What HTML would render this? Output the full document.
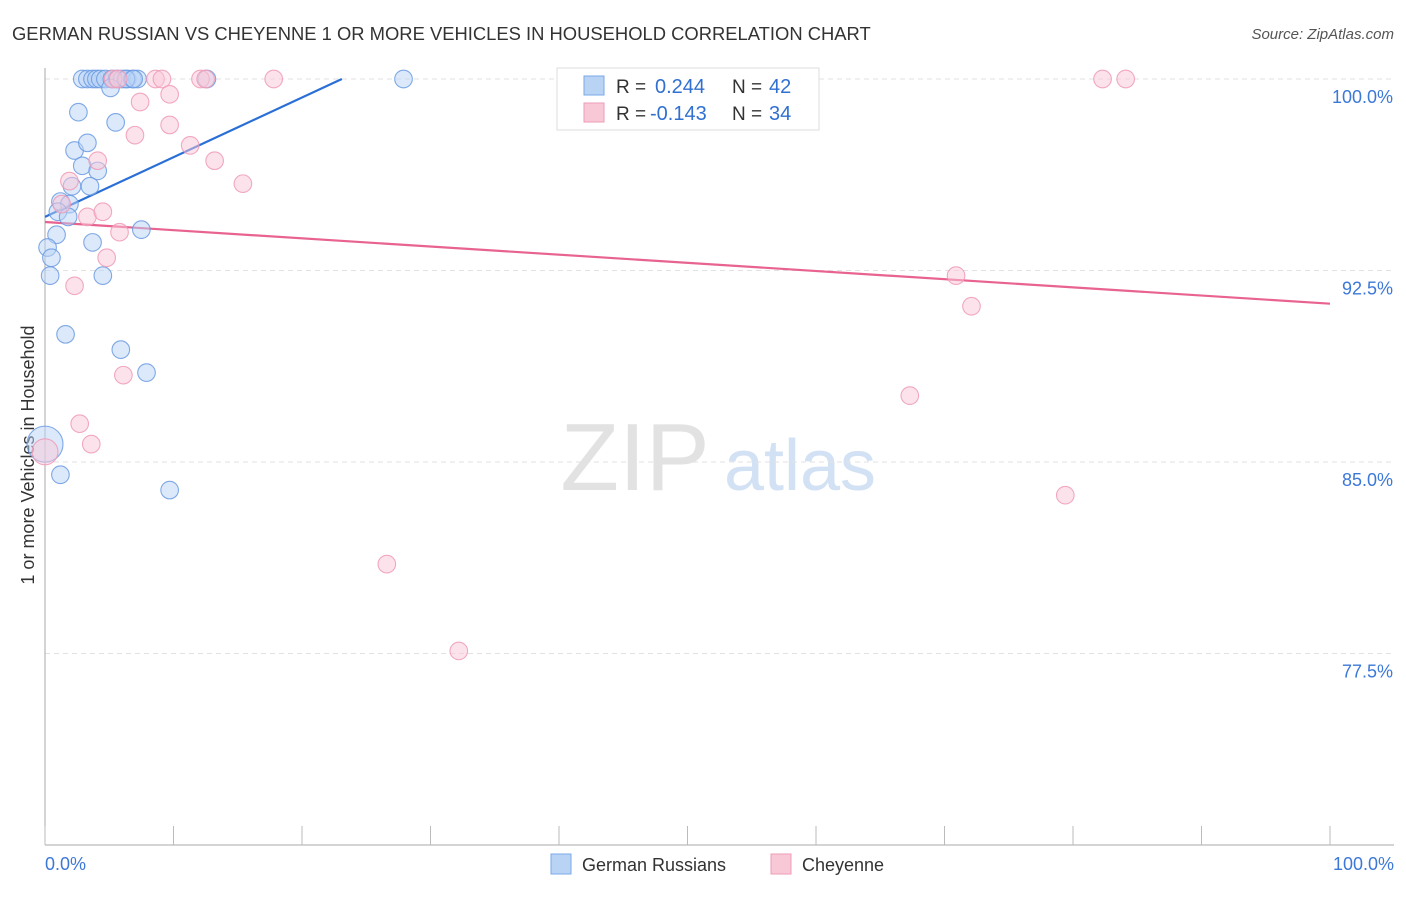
<!DOCTYPE html>
<html><head><meta charset="utf-8">
<style>
body{margin:0;background:#fff;font-family:"Liberation Sans",sans-serif;}
svg text{font-family:"Liberation Sans",sans-serif;}
</style></head>
<body>
<svg id="chart" width="1406" height="892" xmlns="http://www.w3.org/2000/svg">
<text x="12" y="40" font-size="18.4" fill="#333">GERMAN RUSSIAN VS CHEYENNE 1 OR MORE VEHICLES IN HOUSEHOLD CORRELATION CHART</text>
<text x="1394" y="39" font-size="15" fill="#555" text-anchor="end" font-style="italic">Source: ZipAtlas.com</text>
<text x="0" y="0" transform="translate(34,455) rotate(-90)" font-size="18" fill="#333" text-anchor="middle">1 or more Vehicles in Household</text>
<g>
<text x="635" y="490" font-size="96" fill="#e2e2e2" font-family="Liberation Serif" text-anchor="middle">ZIP</text>
<text x="800" y="490" font-size="72" fill="#d3e1f4" text-anchor="middle">atlas</text>
</g>
<g id="grid"></g>
<g id="axes"></g>
<g id="trends"></g>
<g id="points"></g>
<g>
<rect x="557" y="68" width="262" height="62" fill="#fff" stroke="#ddd"/>
<rect x="584" y="76" width="20" height="19" fill="#b9d3f5" stroke="#7aa8e8"/>
<rect x="584" y="103" width="20" height="19" fill="#f9c8d7" stroke="#ee9bb4"/>
<text x="616" y="93" font-size="19" fill="#333">R = </text><text x="655" y="93" font-size="20" fill="#3070d0">0.244</text>
<text x="732" y="93" font-size="19" fill="#333">N = </text><text x="769" y="93" font-size="20" fill="#3070d0">42</text>
<text x="616" y="120" font-size="19" fill="#333">R = </text><text x="650" y="120" font-size="20" fill="#3070d0">-0.143</text>
<text x="732" y="120" font-size="19" fill="#333">N = </text><text x="769" y="120" font-size="20" fill="#3070d0">34</text>
</g>
<g>
<rect x="551" y="854" width="20" height="20" fill="#b9d3f5" stroke="#7aa8e8"/>
<text x="582" y="871" font-size="18" fill="#333">German Russians</text>
<rect x="771" y="854" width="20" height="20" fill="#f9c8d7" stroke="#ee9bb4"/>
<text x="802" y="871" font-size="18" fill="#333">Cheyenne</text>
</g>
</svg>
<script>
const yTicks=[100,92.5,85,77.5];
const yTickLabels=["100.0%","92.5%","85.0%","77.5%"];
const xTickLabels=["0.0%","100.0%"];
const blueX=[2.9,3.3,3.7,4.0,4.3,4.7,5.2,5.6,6.0,6.4,6.8,7.2,12.6,27.9,5.1,2.6,5.5,2.3,3.3,2.9,4.1,2.1,3.5,1.2,1.9,1.0,1.8,0.9,3.7,0.2,0.5,0.4,4.5,7.5,1.6,5.9,7.9,1.2,9.7,0.0,6.3,6.9];
const blueY=[100,100,100,100,100,100,100,100,100,100,100,100,100,100,99.65,98.7,98.3,97.2,97.5,96.6,96.4,95.8,95.8,95.2,95.1,94.8,94.6,93.9,93.6,93.4,93.0,92.3,92.3,94.1,90.0,89.4,88.5,84.5,83.9,85.7,100,100];
const pinkX=[5.3,5.7,8.6,9.1,12.1,12.5,17.8,82.3,84.1,7.4,9.7,9.7,7.0,4.1,1.9,11.3,13.2,15.4,1.3,3.3,4.5,5.8,4.8,2.3,6.1,2.7,3.6,0.0,70.9,72.1,67.3,79.4,26.6,32.2];
const pinkY=[100,100,100,100,100,100,100,100,100,99.1,99.4,98.2,97.8,96.8,96.0,97.4,96.8,95.9,95.1,94.6,94.8,94.0,93.0,91.9,88.4,86.5,85.7,85.4,92.3,91.1,87.6,83.7,81.0,77.6];
const blueTrend=[0,94.6,23.1,100];
const pinkTrend=[0,94.4,100,91.2];
const X0=45,X1=1330,Ytop=79,pxPer=191.5/7.5;
const sx=v=>X0+(X1-X0)*v/100;
const sy=v=>Ytop+(100-v)*pxPer;
const NS="http://www.w3.org/2000/svg";
function mk(tag,attrs,parent){const e=document.createElementNS(NS,tag);for(const k in attrs)e.setAttribute(k,attrs[k]);parent.appendChild(e);return e;}
const grid=document.getElementById('grid'),axes=document.getElementById('axes'),tr=document.getElementById('trends'),pts=document.getElementById('points');
yTicks.forEach((t,i)=>{
 const l=mk('line',{x1:X0,x2:1394,y1:sy(t),y2:sy(t),stroke:'#e2e2e2','stroke-dasharray':'5,4'},grid);
 
 
 const tx=mk('text',{x:1393,y:sy(t)+24,'font-size':18,fill:'#3c78d8','text-anchor':'end'},axes);
 tx.textContent=yTickLabels[i];
 
 
});
const ya=mk('line',{x1:X0,x2:X0,y1:68,y2:845,stroke:'#aaa'},axes);


const xa=mk('line',{x1:X0,x2:1394,y1:845,y2:845,stroke:'#aaa'},axes);


for(let i=0;i<=10;i++){
 const t=mk('line',{x1:sx(i*10),x2:sx(i*10),y1:826,y2:845,stroke:'#bbb'},axes);
 
 
}
[[0,'start',45],[100,'end',1394]].forEach((d,i)=>{
 const t=mk('text',{x:d[2],y:870,'font-size':18,fill:'#3c78d8','text-anchor':d[1]},axes);
 t.textContent=xTickLabels[i];
 
 
});
function dot(x,y,fill,stroke,name){
 const r=(x===0&&(y>85&&y<86))?(fill==='#b9d3f5'?18:13):8.8;
 const c=mk('circle',{cx:sx(x),cy:sy(y),r:r,fill:fill,'fill-opacity':0.5,stroke:stroke,'stroke-opacity':0.85,'stroke-width':1.1},pts);
 
 
}
blueX.forEach((x,i)=>dot(x,blueY[i],'#b9d3f5','#6a9ae2','german-russians-point'));
pinkX.forEach((x,i)=>dot(x,pinkY[i],'#f9c8d7','#ee9ab6','cheyenne-point'));
const bl=mk('line',{x1:sx(blueTrend[0]),y1:sy(blueTrend[1]),x2:sx(blueTrend[2]),y2:sy(blueTrend[3]),stroke:'#2a6fd6','stroke-width':2.2},tr);


const pl=mk('line',{x1:sx(pinkTrend[0]),y1:sy(pinkTrend[1]),x2:sx(pinkTrend[2]),y2:sy(pinkTrend[3]),stroke:'#e8638f','stroke-width':2.2},tr);


</script>
</body></html>
